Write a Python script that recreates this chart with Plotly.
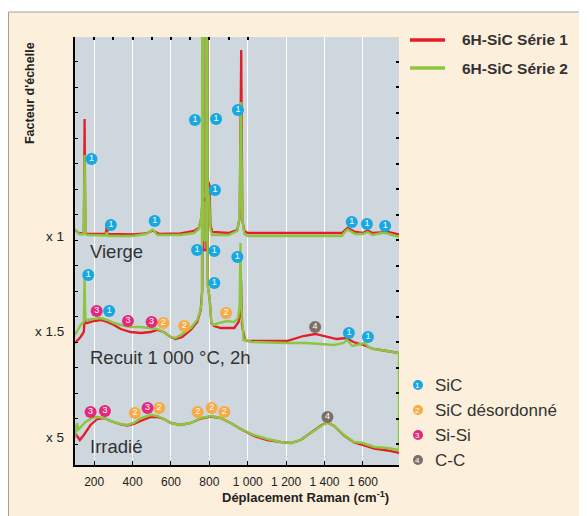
import plotly.graph_objects as go

# Spectres Raman 6H-SiC (intensité décalée, unités arbitraires)
# Vierge
vierge_s1_x = [100, 120, 140, 146, 150, 154, 165, 260, 266, 270, 400, 470, 505, 540, 650, 720, 745, 758, 764, 766,
               768, 785, 788, 791, 800, 806, 815, 900, 945, 958, 966, 972, 982, 1000, 1490, 1505, 1520, 1560, 1600,
               1625, 1650, 1700, 1720, 1788]
vierge_s1_y = [234.5, 232, 231.5, 232, 346, 232, 231, 231, 239, 231, 230.5, 231.5, 234.5, 231, 231.5, 234, 237, 247,
               262, 665, 265, 265, 665, 285, 280, 240, 233, 232, 235, 247, 415, 245, 234, 232, 232, 235, 237, 233, 232,
               234.5, 232, 232.5, 233.5, 230.5]
vierge_s2_x = [100, 120, 140, 146, 150, 154, 165, 260, 266, 272, 400, 470, 505, 530, 650, 720, 745, 757, 763, 765,
               767, 785, 787, 790, 799, 806, 815, 900, 945, 957, 965, 971, 982, 1000, 1490, 1505, 1520, 1560, 1600,
               1625, 1650, 1700, 1720, 1788]
vierge_s2_y = [236, 231, 230.5, 232, 310, 231, 230, 229.5, 233, 229, 229, 231, 235.5, 230, 230, 232, 236, 247, 260,
               665, 270, 270, 665, 280, 265, 235, 230, 230, 234, 247, 363, 247, 231, 229, 229, 233, 235.5, 231, 231,
               233, 230, 232, 232, 228]

# Recuit 1 000 °C, 2h
recuit_s1_x = [100, 129, 146, 148, 150, 153, 163, 198, 233, 268, 303, 338, 390, 442, 494, 529, 563, 598, 624, 659,
               703, 737, 755, 763, 766, 769, 785, 788, 792, 802, 810, 824, 860, 930, 952, 960, 965, 970, 985, 1003,
               1203, 1238, 1290, 1351, 1412, 1464, 1513, 1551, 1603, 1655, 1725, 1788]
recuit_s1_y = [122, 128, 133, 140, 172, 142, 142, 144, 145, 143, 140, 136, 133, 132, 133, 135, 133, 128, 126, 128,
               135, 143, 155, 175, 665, 215, 215, 665, 180, 165, 142, 139, 137, 137, 143, 152, 185, 140, 125, 124,
               124, 126, 129, 131, 128, 126, 127, 123, 120, 116, 114, 112]
recuit_s2_x = [100, 129, 146, 148, 150, 153, 163, 198, 233, 268, 303, 338, 390, 442, 494, 529, 563, 598, 624, 651,
               659, 703, 737, 750, 761, 765, 768, 784, 787, 791, 802, 810, 820, 850, 894, 929, 950, 958, 962, 966,
               970, 978, 990, 1020, 1203, 1300, 1380, 1450, 1500, 1516, 1545, 1610, 1630, 1655, 1725, 1788]
recuit_s2_y = [130, 140, 143, 155, 190, 145, 145, 146, 147, 145, 142, 140, 138, 138, 137, 136, 133, 128, 127, 130,
               131, 137, 145, 153, 163, 665, 225, 225, 665, 180, 165, 143, 140, 142, 144, 143, 147, 160, 222, 160,
               145, 125, 125, 123, 122, 122, 121, 120, 122, 125, 119, 122, 118, 116, 114, 112]

# Irradié
irradie_s1_x = [100, 125, 146, 181, 216, 251, 286, 338, 372, 407, 442, 494, 529, 563, 598, 651, 703, 755, 807, 859,
                911, 963, 1033, 1102, 1172, 1224, 1276, 1329, 1381, 1415, 1450, 1502, 1554, 1598, 1659, 1728, 1788]
irradie_s1_y = [32, 25, 30, 40, 46, 47, 44, 40.5, 39.5, 41, 44, 48, 48, 46, 42, 40, 42, 46.5, 48.5, 47,
                42, 36, 29, 25, 23, 22, 25, 32, 39.5, 42.5, 39, 29.5, 22.5, 20, 16.5, 14.5, 12]
irradie_s2_x = [100, 104, 108, 111, 118, 129, 155, 190, 216, 251, 286, 338, 372, 407, 442, 494, 529, 563, 598, 651,
                703, 755, 807, 859, 911, 963, 1033, 1102, 1172, 1224, 1276, 1329, 1381, 1415, 1450, 1502, 1554, 1598,
                1659, 1728, 1788]
irradie_s2_y = [27, 40, 33, 42, 35, 38, 43, 47, 48, 47, 44, 41, 40, 42, 47, 50, 49, 46, 42, 40,
                42, 47, 49, 47, 42, 36, 30, 26, 23, 22, 25, 32, 39, 42, 39, 30, 23, 22, 18, 17, 15]

# repères des bandes (1 SiC, 2 SiC désordonné, 3 Si-Si, 4 C-C)
bandes_x = [186, 287, 515, 725, 835, 949, 829, 1542, 1621, 1716,
            169, 213, 278, 376, 499, 560, 669, 736, 826, 946, 826, 887, 1351, 1527, 1626,
            181, 256, 412, 478, 539, 739, 812, 878, 1415]
bandes_y = [306, 240, 244, 345, 346, 355, 275, 243, 241, 239,
            190, 154, 154, 144, 143, 142, 139, 215, 214, 208, 182, 152, 138, 132, 128,
            53, 54, 52, 57, 57, 53, 57, 53, 48]
bandes_type = [1, 1, 1, 1, 1, 1, 1, 1, 1, 1,
               1, 3, 1, 3, 3, 2, 2, 1, 1, 1, 1, 2, 4, 1, 1,
               3, 3, 2, 3, 2, 2, 2, 2, 4]
bandes_noms = ["SiC", "SiC désordonné", "Si-Si", "C-C"]
bandes_couleurs = ["#17a7e1", "#f8aa44", "#e5287c", "#7b7068"]

series = ["6H-SiC Série 1", "6H-SiC Série 2"]
couleurs = ["#e31e26", "#8cc63f"]

facteurs = ["x 1", "x 1.5", "x 5"]
facteurs_y = [229, 134, 28]
etats = ["Vierge", "Recuit 1 000 °C, 2h", "Irradié"]
etats_y = [214, 108, 19]

x_ticks = [200, 400, 600, 800, 1000, 1200, 1400, 1600]
x_ticktext = ["200", "400", "600", "800", "1 000", "1 200", "1 400", "1 600"]

police = "Liberation Sans, Arial, sans-serif"
fig = go.Figure()

# série 1 (rouge) puis série 2 (vert) par-dessus
for xs, ys in [(vierge_s1_x, vierge_s1_y), (recuit_s1_x, recuit_s1_y), (irradie_s1_x, irradie_s1_y)]:
    fig.add_trace(go.Scatter(x=xs, y=ys, mode="lines", line=dict(color=couleurs[0], width=2.3),
                             showlegend=False, hoverinfo="skip"))
fig.add_trace(go.Scatter(x=vierge_s2_x, y=vierge_s2_y, mode="lines", line=dict(color=couleurs[1], width=2.4),
                         showlegend=False, hoverinfo="skip"))
# recuit + irradié tracés d'un seul tenant (trait vertical à droite)
fig.add_trace(go.Scatter(x=recuit_s2_x + irradie_s2_x[::-1], y=recuit_s2_y + irradie_s2_y[::-1], mode="lines",
                         line=dict(color=couleurs[1], width=2.4), showlegend=False, hoverinfo="skip"))

for k in range(4):
    xs = [x for x, t in zip(bandes_x, bandes_type) if t == k + 1]
    ys = [y for y, t in zip(bandes_y, bandes_type) if t == k + 1]
    fig.add_trace(go.Scatter(x=xs, y=ys, mode="markers+text", text=[str(k + 1)] * len(xs),
                             textposition="middle center",
                             textfont=dict(color="white", size=9, family=police),
                             marker=dict(size=12, color=bandes_couleurs[k], line=dict(width=0)),
                             showlegend=False, hoverinfo="skip", cliponaxis=False))

# légende des bandes, hors du cadre
leg_y = [80, 55, 30, 5]
for k, (nom, y) in enumerate(zip(bandes_noms, leg_y)):
    fig.add_shape(type="circle", xref="paper", yref="y", xsizemode="pixel", ysizemode="pixel",
                  xanchor=1.0586, yanchor=y, x0=-5, x1=5, y0=-5, y1=5,
                  fillcolor=bandes_couleurs[k], line=dict(width=0))
    fig.add_annotation(x=1.0586, xref="paper", y=y, yref="y", text=str(k + 1), showarrow=False,
                       xanchor="center", yanchor="middle", font=dict(size=8, color="white", family=police))
    fig.add_annotation(x=1.105, xref="paper", y=y, yref="y", text=nom, showarrow=False, xanchor="left",
                       yanchor="middle", font=dict(size=17, color="#333333", family=police))

# légende des séries
for i, (nom, c) in enumerate(zip(series, couleurs)):
    yp = 0.993 - i * 0.0655
    fig.add_shape(type="line", xref="paper", yref="paper", x0=1.034, x1=1.142, y0=yp, y1=yp,
                  line=dict(color=c, width=3.5))
    fig.add_annotation(x=1.188, xref="paper", y=yp, yref="paper", text="<b>" + nom + "</b>", showarrow=False,
                       xanchor="left", yanchor="middle", font=dict(size=15.5, color="#333333", family=police))

for t, y in zip(facteurs, facteurs_y):
    fig.add_annotation(x=-0.028, xref="paper", y=y, yref="y", text=t, showarrow=False, xanchor="right",
                       yanchor="middle", font=dict(size=13.5, color="#222222", family=police))
for t, y in zip(etats, etats_y):
    fig.add_annotation(x=167, xref="x", y=y, yref="y", text=t, showarrow=False, xanchor="left",
                       yanchor="middle", font=dict(size=18.5, color="#333333", family=police))

fig.add_annotation(x=-0.139, xref="paper", y=0.869, yref="paper", text="<b>Facteur d'échelle</b>",
                   textangle=-90, showarrow=False, xanchor="center", yanchor="middle",
                   font=dict(size=12.5, color="#222222", family=police))
fig.add_annotation(x=0.71, xref="paper", y=-0.075, yref="paper",
                   text="<b>Déplacement Raman (cm<sup>-1</sup>)</b>", showarrow=False,
                   xanchor="center", yanchor="middle",
                   font=dict(size=13, color="#222222", family=police))

# cadre crème : bande blanche en haut et filet gris
fig.add_shape(type="rect", xref="paper", yref="paper", x0=-0.3, x1=1.7, y0=1.0584, y1=1.2,
              fillcolor="white", line=dict(width=0))
fig.add_shape(type="line", xref="paper", yref="paper", x0=-0.2052, x1=-0.2052, y0=-0.2, y1=1.0584,
              line=dict(color="#a0a0a0", width=1))
fig.add_shape(type="line", xref="paper", yref="paper", x0=-0.2052, x1=1.7, y0=1.0584, y1=1.0584,
              line=dict(color="#a0a0a0", width=1))

# axes de repère (traits en haut et à droite)
fig.add_trace(go.Scatter(x=[None], y=[None], xaxis="x2", yaxis="y2", showlegend=False, hoverinfo="skip"))

fig.update_layout(
    width=579, height=508,
    margin=dict(l=67, r=188, t=29, b=51),
    paper_bgcolor="#fcefdb",
    plot_bgcolor="#ced7dd",
    showlegend=False,
    font=dict(family=police, color="#222222"),
    xaxis=dict(range=[100, 1788], tickvals=x_ticks, ticktext=x_ticktext, showgrid=True, gridcolor="white",
               gridwidth=1.2, showline=True, linecolor="black", linewidth=1.5, ticks="inside", ticklen=4,
               tickcolor="black", zeroline=False, ticklabelstandoff=5, tickfont=dict(size=12, color="#222222")),
    yaxis=dict(range=[0, 428], tick0=20.7, dtick=25.5, showticklabels=False, showgrid=False, zeroline=False,
               showline=True, linecolor="black", linewidth=1.5, ticks="inside", ticklen=3, tickcolor="black"),
    xaxis2=dict(range=[100, 1788], overlaying="x", side="top", tickvals=list(range(200, 1001, 100)),
                showticklabels=False, showgrid=False, showline=False, zeroline=False, ticks="inside",
                ticklen=3, tickcolor="black", tickwidth=1.5),
    yaxis2=dict(range=[0, 428], overlaying="y", side="right", tick0=20.7, dtick=25.5, showticklabels=False,
                showgrid=False, showline=False, zeroline=False, ticks="inside", ticklen=3, tickcolor="black",
                tickwidth=1.5),
)

fig.write_html("out.html")
